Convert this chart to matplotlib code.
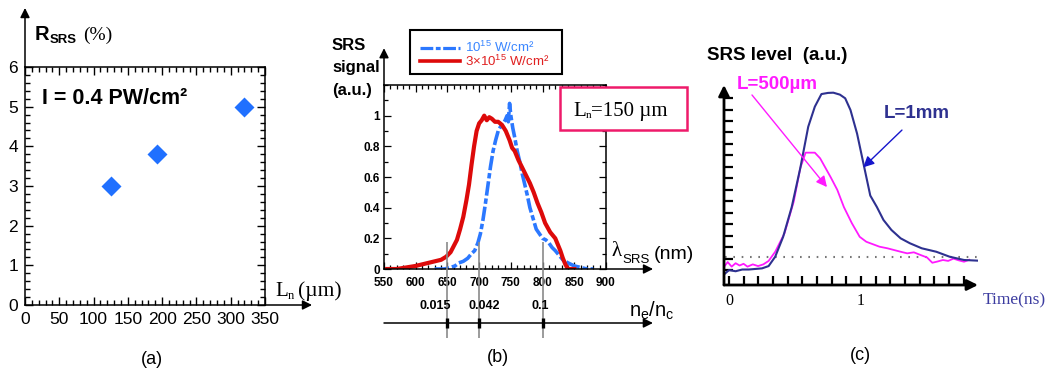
import matplotlib
matplotlib.use("Agg")
import numpy as np
import matplotlib.pyplot as plt
from matplotlib.ticker import MultipleLocator
from matplotlib.patches import Rectangle
from matplotlib.lines import Line2D

plt.rcParams['font.family'] = ['Liberation Sans', 'DejaVu Sans']
plt.rcParams['mathtext.fontset'] = 'custom'
plt.rcParams['mathtext.rm'] = 'Liberation Sans'
plt.rcParams['mathtext.it'] = 'Liberation Sans:italic'
plt.rcParams['mathtext.bf'] = 'Liberation Sans:bold'

# ---- data ----
# (a) SRS reflectivity vs density scale length
ln_um = [125, 192, 320]
r_srs = [3.0, 3.8, 5.0]

# (b) SRS spectra
blue_lam = [630, 645, 655, 662, 668, 675, 682, 688, 693, 698, 702, 706, 710, 714,
            718, 722, 726, 730, 734, 738, 741, 744, 746, 748, 750, 753, 756, 760,
            764, 768, 772, 776, 780, 785, 790, 795, 800, 805, 810, 815, 820, 826,
            832, 840, 850, 860, 870, 880]
blue_sig = [0.0, 0.0, 0.01, 0.02, 0.04, 0.05, 0.07, 0.1, 0.12, 0.17, 0.23, 0.32,
            0.43, 0.55, 0.67, 0.77, 0.84, 0.9, 0.93, 0.95, 0.97, 1.0, 0.96, 1.08,
            1.0, 0.92, 0.86, 0.77, 0.7, 0.62, 0.55, 0.48, 0.4, 0.33, 0.26, 0.23,
            0.2, 0.19, 0.17, 0.14, 0.12, 0.09, 0.06, 0.04, 0.02, 0.01, 0.0, 0.0]
red_lam = [555, 570, 585, 600, 610, 620, 630, 640, 648, 655, 660, 665, 670, 675,
           680, 684, 688, 692, 696, 700, 704, 708, 712, 716, 720, 725, 730, 736,
           742, 748, 752, 756, 762, 768, 774, 780, 786, 792, 798, 804, 808, 812,
           816, 820, 824, 828, 832, 836, 840, 850]
red_sig = [0.0, 0.0, 0.01, 0.02, 0.03, 0.04, 0.05, 0.06, 0.08, 0.11, 0.15, 0.19,
           0.26, 0.34, 0.45, 0.55, 0.68, 0.8, 0.9, 0.95, 0.97, 1.0, 0.97, 0.99,
           0.98, 0.96, 0.96, 0.94, 0.9, 0.84, 0.79, 0.77, 0.71, 0.66, 0.61, 0.56,
           0.5, 0.43, 0.37, 0.3, 0.27, 0.24, 0.22, 0.2, 0.16, 0.12, 0.07, 0.03,
           0.0, 0.0]
lam_ticks = [550, 600, 650, 700, 750, 800, 850, 900]
sig_ticks = [0, 0.2, 0.4, 0.6, 0.8, 1.0]
sig_tick_labels = ['0', '0.2', '0.4', '0.6', '0.8', '1']
density_lam = [650, 700, 800]
density_lbl = ['0.015', '0.042', '0.1']
density_lbl_dx = [-8.6, 4.0, -1.4]

# (c) SRS time history
navy_t = [-0.03, 0.0, 0.05, 0.1, 0.15, 0.2, 0.25, 0.3, 0.35, 0.41, 0.475, 0.54,
          0.60, 0.65, 0.70, 0.75, 0.79, 0.84, 0.88, 0.92, 0.97, 1.02, 1.07, 1.12,
          1.17, 1.23, 1.30, 1.37, 1.46, 1.57, 1.67, 1.78, 1.89]
navy_lvl = [-0.3, 0.0, -0.1, 0.05, 0.05, 0.1, 0.15, 0.35, 1.17, 2.9, 5.5, 8.9,
            12.5, 14.25, 15.35, 15.45, 15.47, 15.3, 14.98, 13.96, 11.9, 9.2, 6.5,
            5.5, 4.37, 3.5, 2.77, 2.34, 1.9, 1.6, 1.17, 0.88, 0.82]
mag_t = [-0.03, -0.01, 0.02, 0.05, 0.08, 0.11, 0.14, 0.18, 0.22, 0.26, 0.3, 0.35,
         0.42, 0.49, 0.54, 0.58, 0.65, 0.69, 0.77, 0.82, 0.87, 0.93, 0.99, 1.04,
         1.07, 1.14, 1.2, 1.25, 1.3, 1.35, 1.4, 1.45, 1.5, 1.54, 1.58, 1.62, 1.66,
         1.7, 1.74, 1.78, 1.82]
mag_lvl = [0.4, 0.7, 0.3, 0.6, 0.4, 0.55, 0.3, 0.5, 0.35, 0.5, 0.8, 1.6, 3.2,
           5.96, 8.9, 10.24, 10.24, 9.75, 8.1, 7.0, 5.5, 4.1, 2.9, 2.47, 2.34,
           2.04, 1.9, 1.75, 1.6, 1.46, 1.55, 1.32, 1.1, 0.64, 0.75, 0.88, 0.8,
           1.0, 0.85, 0.73, 0.9]
noise_level = 1.17

# ---- figure ----
W, H = 1046, 377
fig = plt.figure(figsize=(W / 100, H / 100), dpi=100)
renderer = fig.canvas.get_renderer()


def add_ax(left, top, right, bottom):
    return fig.add_axes([left / W, 1 - bottom / H, (right - left) / W, (bottom - top) / H])


def ftext(x, y, s, **kw):
    return fig.text(x / W, 1 - y / H, s, **kw)


def chain(x, y, parts):
    # parts: (text, dy, gap_before, kwargs); each piece starts where the last ended
    for s, dy, gap, kw in parts:
        t = ftext(x + gap, y + dy, s, **kw)
        x = t.get_window_extent(renderer).x1


def axis_arrow(ax, start, end, lw=1.1, ms=14):
    ax.annotate('', xy=end, xytext=start, xycoords='axes fraction',
                arrowprops=dict(arrowstyle='-|>', color='black', lw=lw,
                                shrinkA=0, shrinkB=0, mutation_scale=ms),
                annotation_clip=False)


SERIF = 'Liberation Serif'

# ---- panel (a) ----
ax_a = add_ax(25, 67, 265, 305)
ax_a.plot(ln_um, r_srs, 'D', color='#2070ff', ms=10.5, mec='none', clip_on=False)
ax_a.set_xlim(0, 350)
ax_a.set_ylim(0, 6)
ax_a.xaxis.set_major_locator(MultipleLocator(50))
ax_a.xaxis.set_minor_locator(MultipleLocator(10))
ax_a.yaxis.set_major_locator(MultipleLocator(1))
ax_a.yaxis.set_minor_locator(MultipleLocator(0.2))
ax_a.tick_params(which='both', direction='in', top=True, right=True, width=1.0,
                 labelsize=12.5, pad=5)
ax_a.tick_params(which='major', length=6)
ax_a.tick_params(which='minor', length=3.5)
for sp in ax_a.spines.values():
    sp.set_linewidth(1.1)
axis_arrow(ax_a, (0, 1), (0, 1.248))
axis_arrow(ax_a, (1, 0), (1.196, 0))

chain(35, 40, [('R', 0, 0, dict(fontsize=14.5, fontweight='bold')),
               ('SRS', 3, 0.5, dict(fontsize=9.5, fontweight='bold')),
               ('(%)', -0.5, 6, dict(fontsize=14, family=SERIF))])
ftext(41.5, 103.5, 'I = 0.4 PW/cm²', fontsize=15.5, fontweight='bold')
chain(275, 296, [('L', 0, 0, dict(fontsize=15, family=SERIF)),
                 ('n', 3, 0, dict(fontsize=9, family=SERIF)),
                 ('(µm)', 0, 4, dict(fontsize=15.5, family=SERIF))])
ftext(152, 360, '(a)', fontsize=13, ha='center', va='center')

# ---- panel (b) ----
ax_b = add_ax(384, 85, 606, 269)
ax_b.plot(blue_lam, blue_sig, color='#2b78ff', lw=2.6, dashes=(4, 0.8, 1.5, 0.8))
ax_b.plot(red_lam, red_sig, color='#dd0a0a', lw=3.0)
ax_b.set_xlim(550, 900)
ax_b.set_ylim(0, 1.2)
ax_b.set_xticks(lam_ticks, [str(v) for v in lam_ticks], fontweight='bold')
ax_b.set_yticks(sig_ticks, sig_tick_labels, fontweight='bold')
ax_b.xaxis.set_minor_locator(MultipleLocator(10))
ax_b.yaxis.set_minor_locator(MultipleLocator(0.1))
ax_b.tick_params(which='both', direction='in', top=True, right=True, width=0.9,
                 labelsize=8.5, pad=3)
ax_b.tick_params(axis='x', which='both', pad=6)
ax_b.tick_params(which='major', length=5)
ax_b.tick_params(which='minor', length=3)
for sp in ax_b.spines.values():
    sp.set_linewidth(1.1)
axis_arrow(ax_b, (0, 1), (0, 1.2))
axis_arrow(ax_b, (1, 0), (1.212, 0))

# density axis below, x in nm, y in figure pixels
ax_n = add_ax(384, 235, 606, 340)
ax_n.set_xlim(550, 900)
ax_n.set_ylim(340, 235)
ax_n.set_axis_off()
ax_n.annotate('', xy=(974, 323), xytext=(550, 323), xycoords='data',
              arrowprops=dict(arrowstyle='-|>', color='black', lw=1.1,
                              shrinkA=0, shrinkB=0, mutation_scale=14),
              annotation_clip=False)
ax_n.vlines(density_lam, 242, 338, color='#8a8a8a', lw=1.2, zorder=3)
ax_n.vlines(density_lam, 318, 328, color='black', lw=2.4, zorder=4)
for lam, lbl, dx in zip(density_lam, density_lbl, density_lbl_dx):
    ax_n.annotate(lbl, (lam, 306), xytext=(dx, 0), textcoords='offset points',
                  ha='center', va='center', fontsize=9, fontweight='bold',
                  annotation_clip=False)

ftext(332, 49.5, 'SRS', fontsize=12, fontweight='bold')
ftext(332, 72, 'signal', fontsize=12, fontweight='bold')
ftext(332, 94.5, '(a.u.)', fontsize=12, fontweight='bold')
chain(611.5, 256, [('λ', 0, 0, dict(fontsize=15, family=SERIF)),
                   ('SRS', 7, 0.5, dict(fontsize=9.5)),
                   ('(nm)', 3, 4, dict(fontsize=14))])
ftext(629, 317, r'$\mathregular{n_e/n_c}$', fontsize=14.5)
ftext(498, 358, '(b)', fontsize=13, ha='center', va='center')

# legend box
fig.add_artist(Rectangle((410 / W, 1 - 74 / H), 152 / W, 44 / H, transform=fig.transFigure,
                         facecolor='white', edgecolor='black', lw=1.5, zorder=5))
fig.add_artist(Line2D([420 / W, 460 / W], [1 - 48 / H] * 2, transform=fig.transFigure,
                      color='#2b78ff', lw=2.3, dashes=(4, 0.8, 1.5, 0.8), zorder=6))
fig.add_artist(Line2D([420 / W, 460 / W], [1 - 61 / H] * 2, transform=fig.transFigure,
                      color='#dd0a0a', lw=2.6, zorder=6))
ftext(465, 51.5, r'$\mathregular{10^{15}}$ W/cm²', fontsize=9.5, color='#3a86ff', zorder=7)
ftext(465, 66, r'3×$\mathregular{10^{15}}$ W/cm²', fontsize=9.5, color='#e02020', zorder=7)

# L_n box
fig.add_artist(Rectangle((560 / W, 1 - 130 / H), 127 / W, 43 / H, transform=fig.transFigure,
                         facecolor='white', edgecolor='#ee1a6a', lw=1.8, zorder=5))
chain(573, 116, [('L', 0, 0, dict(fontsize=15, family=SERIF, zorder=7)),
                 ('n', 2.5, 0, dict(fontsize=8, family=SERIF, zorder=7)),
                 ('=150 µm', 0, 0, dict(fontsize=15, family=SERIF, zorder=7))])

# ---- panel (c) ----
ax_c = add_ax(724, 85, 978, 285)
ax_c.plot([-0.03, 1.88], [noise_level, noise_level], color='#777777', lw=1.5,
          ls=(0, (0.8, 3.2)))
ax_c.plot(mag_t, mag_lvl, color='#ff1aff', lw=1.3)
ax_c.plot(navy_t, navy_lvl, color='#2e3190', lw=1.5)
ax_c.set_xlim(-0.038, 1.886)
ax_c.set_ylim(-1.3, 16.14)
for sp in ax_c.spines.values():
    sp.set_visible(False)
ax_c.set_yticks(np.arange(0, 16))
ax_c.set_yticklabels([])
xt = np.arange(0, 17) / 9
ax_c.set_xticks(xt)
ax_c.set_xticklabels(['0' if k == 0 else ('1' if k == 9 else '') for k in range(17)],
                     family=SERIF, fontsize=11.5)
ax_c.tick_params(which='both', direction='in', length=6.5, width=1.6, pad=6)
axis_arrow(ax_c, (0, 0), (0, 1), lw=2.0, ms=16)
axis_arrow(ax_c, (0, 0), (1, 0), lw=2.0, ms=16)
ax_c.annotate('', xy=(0.742, 7.24), xytext=(0.174, 15.27),
              arrowprops=dict(arrowstyle='-|>', color='#ff1aff', lw=1.0,
                              shrinkA=0, shrinkB=0, mutation_scale=16),
              annotation_clip=False)
ax_c.annotate('', xy=(1.017, 8.96), xytext=(1.31, 12.21),
              arrowprops=dict(arrowstyle='-|>', color='#1515cc', lw=1.0,
                              shrinkA=0, shrinkB=0, mutation_scale=16),
              annotation_clip=False)

ftext(707, 60, 'SRS level  (a.u.)', fontsize=13.5, fontweight='bold')
ftext(737, 89, 'L=500µm', fontsize=13.5, fontweight='bold', color='#ff1aff')
ftext(884, 118.5, 'L=1mm', fontsize=13.5, fontweight='bold', color='#2e3190')
ftext(983, 300, 'Time(ns)', fontsize=12.5, family=SERIF, color='#3c3ca0', va='center')
ftext(860, 356, '(c)', fontsize=13, ha='center', va='center')

fig.savefig('out.png', dpi=100)
